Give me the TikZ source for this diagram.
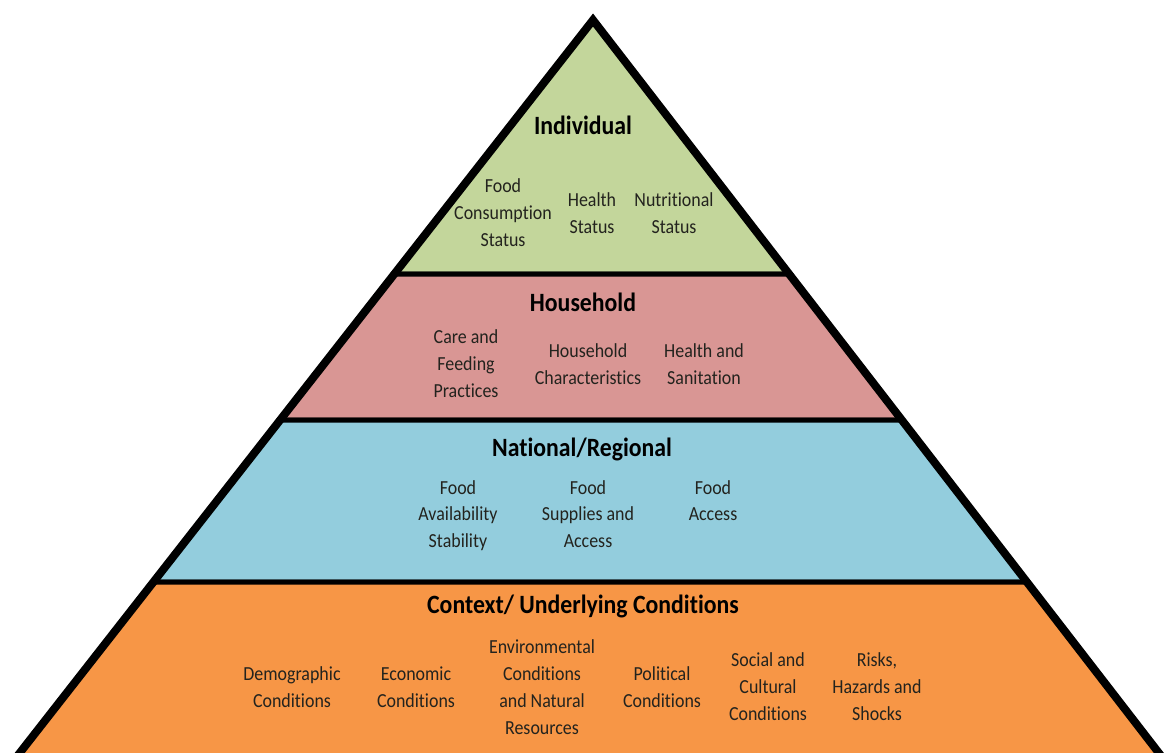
\documentclass[tikz,border=0pt]{standalone}
\usepackage{fontspec}
\setmainfont{Carlito}[FakeStretch=0.9, Ligatures=NoCommon]
\usetikzlibrary{positioning}
\definecolor{indgreen}{RGB}{195,214,155}
\definecolor{hhpink}{RGB}{217,150,148}
\definecolor{natblue}{RGB}{147,205,221}
\definecolor{ctxorange}{RGB}{247,150,70}
\definecolor{itemtext}{RGB}{35,35,30}
\tikzstyle{layer} = [draw=black, line width=5bp, line join=miter]
\tikzstyle{layertitle} = [font=\fontsize{26.5}{30}\selectfont\bfseries, text=black, inner sep=0pt]
\tikzstyle{item} = [align=center, font=\fontsize{20}{27}\selectfont, text=itemtext, inner sep=0pt]

\begin{document}
\begin{tikzpicture}[x=1bp,y=-1bp]
\useasboundingbox (0,0) rectangle (1164,753);
% pyramid corners
\coordinate (apex) at (593,20);
\coordinate (bl) at (6.4,770);
\coordinate (br) at (1172,770);

% layers, top to bottom
\draw [layer, fill=indgreen] (apex) -- (790.1,274) -- (393.3,274) -- cycle;
\draw [layer, fill=hhpink] (393.3,274) -- (790.1,274) -- (902.5,420) -- (279.4,420) -- cycle;
\draw [layer, fill=natblue] (279.4,420) -- (902.5,420) -- (1027.3,582) -- (153.1,582) -- cycle;
\draw [layer, fill=ctxorange] (153.1,582) -- (1027.3,582) -- (br) -- (bl) -- cycle;
\draw [line width=8bp, line join=miter, miter limit=20] (bl) -- (apex) -- (br);

% individual
\node (indiv) [layertitle] at (583,125) {Individual};
\node (foodcons) [item] at (503,213) {Food\\Consumption\\Status};
\node (healthst) [item] at (592,213) {Health\\Status};
\node (nutrst) [item] at (674,213) {Nutritional\\Status};

% household
\node (house) [layertitle] at (583,302) {Household};
\node (care) [item] at (466,364) {Care and\\Feeding\\Practices};
\node (hhchar) [item] at (588,364) {Household\\Characteristics};
\node (sanit) [item] at (704,364) {Health and\\Sanitation};

% national / regional
\node (natreg) [layertitle] at (582,449) {National/Regional};
\node (avail) [item, anchor=north] at (458,480) {Food\\Availability\\Stability};
\node (supply) [item, anchor=north] at (588,480) {Food\\Supplies and\\Access};
\node (access) [item, anchor=north] at (713,480) {Food\\Access};

% context
\node (context) [layertitle] at (583,606) {Context/ Underlying Conditions};
\node (demog) [item] at (292,687) {Demographic\\Conditions};
\node (econ) [item] at (416,687) {Economic\\Conditions};
\node (envir) [item] at (542,687) {Environmental\\Conditions\\and Natural\\Resources};
\node (polit) [item] at (662,687) {Political\\Conditions};
\node (social) [item] at (768,687) {Social and\\Cultural\\Conditions};
\node (risks) [item] at (877,687) {Risks,\\Hazards and\\Shocks};
\end{tikzpicture}
\end{document}
